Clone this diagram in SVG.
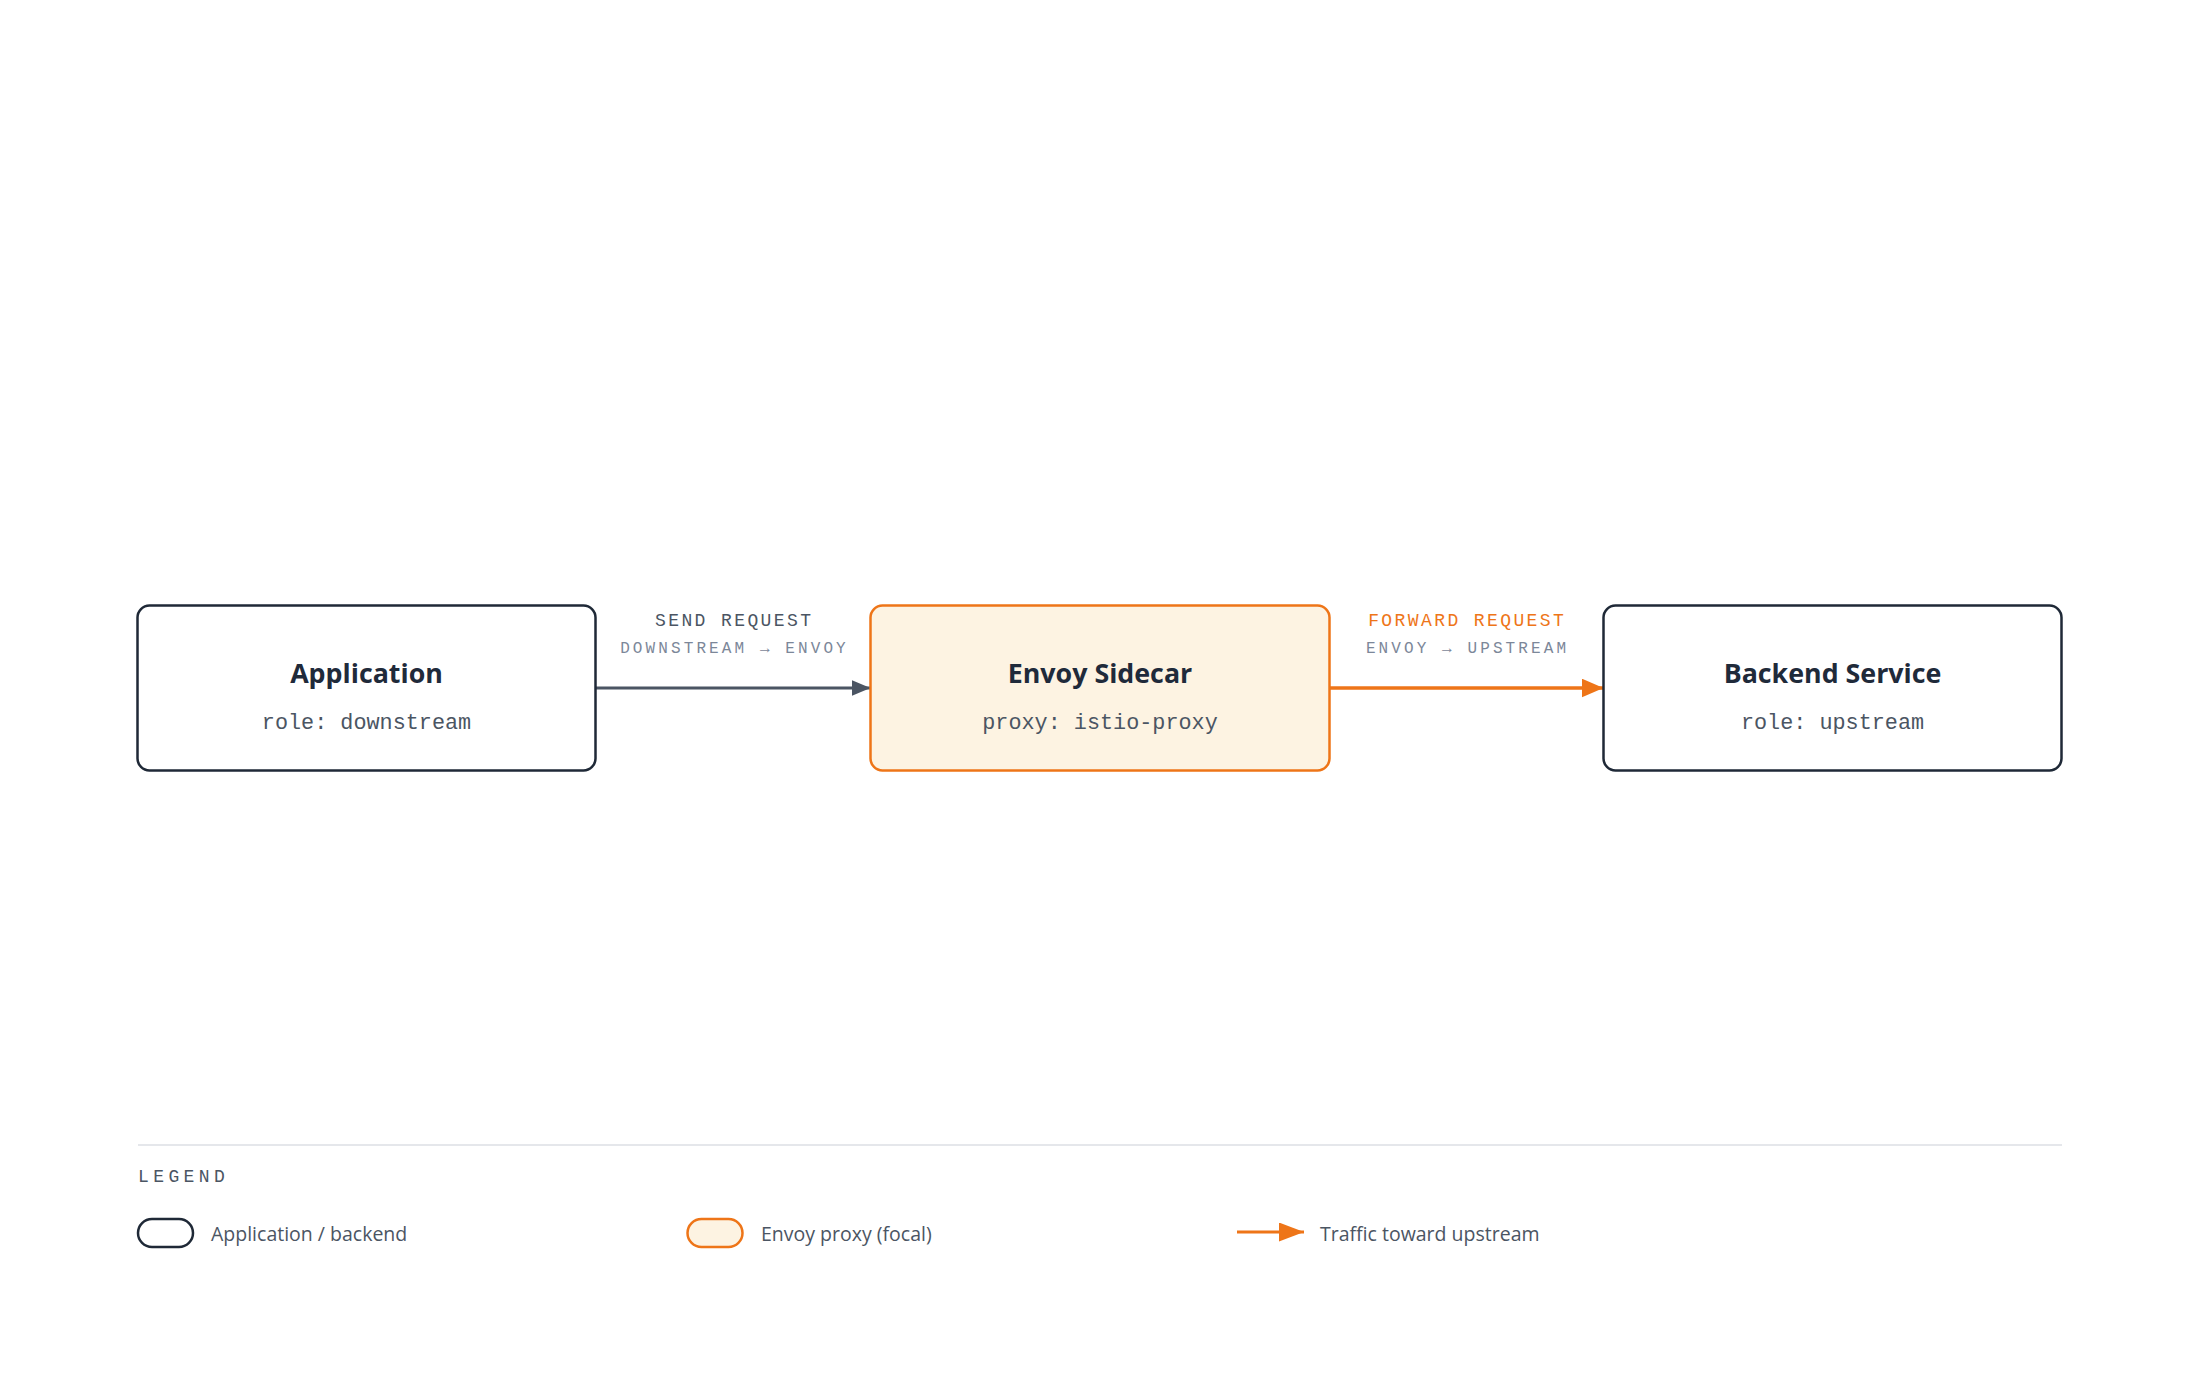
<svg xmlns="http://www.w3.org/2000/svg" width="2200" height="1376" viewBox="0 0 2200 1376">
  <style>
    .box { fill: #ffffff; stroke: #1f2937; stroke-width: 2.5; }
    .focal { fill: #fdf3e2; stroke: #ee7518; stroke-width: 2.5; }
    .title { font-family: "Open Sans", "Noto Sans", sans-serif; font-weight: 700; font-size: 26.8px; fill: #1f2a3a; text-anchor: middle; }
    .sub { font-family: "Liberation Mono", "DejaVu Sans Mono", monospace; font-size: 21.8px; fill: #4b5563; text-anchor: middle; }
    .elabel { font-family: "Liberation Mono", "DejaVu Sans Mono", monospace; font-size: 18px; letter-spacing: 2.4px; text-anchor: middle; }
    .esub { font-family: "Liberation Mono", "DejaVu Sans Mono", monospace; font-size: 16px; letter-spacing: 3.1px; fill: #7c8799; text-anchor: middle; }
    .legtext { font-family: "Open Sans", "Noto Sans", sans-serif; font-size: 19.5px; fill: #4b5563; }
    .legtitle { font-family: "Liberation Mono", "DejaVu Sans Mono", monospace; font-size: 18px; letter-spacing: 4.4px; fill: #4b5563; }
  </style>
  <defs>
    <marker id="arrGrey" markerUnits="userSpaceOnUse" markerWidth="20" markerHeight="16" refX="19" refY="8" orient="auto">
      <path d="M0,0 L19,8 L0,16 Z" fill="#4b5563"/>
    </marker>
    <marker id="arrOrange" markerUnits="userSpaceOnUse" markerWidth="23" markerHeight="20" refX="22" refY="9.5" orient="auto">
      <path d="M0,0 L22,9.5 L0,19 Z" fill="#ee7518"/>
    </marker>
    <marker id="arrOrangeLeg" markerUnits="userSpaceOnUse" markerWidth="26" markerHeight="20" refX="25" refY="9.5" orient="auto">
      <path d="M0,0 L25,9.5 L0,19 Z" fill="#ee7518"/>
    </marker>
  </defs>
  <rect width="2200" height="1376" fill="#ffffff"/>

  <g id="connectors">
    <g id="edge-send">
      <line x1="595.5" y1="688" x2="870.5" y2="688" stroke="#4b5563" stroke-width="3" marker-end="url(#arrGrey)"/>
      <text class="elabel" x="734.2" y="625.5" fill="#4b5563">SEND REQUEST</text>
      <text class="esub" x="734.5" y="652.5">DOWNSTREAM → ENVOY</text>
    </g>
    <g id="edge-forward">
      <line x1="1329.5" y1="688" x2="1603.5" y2="688" stroke="#ee7518" stroke-width="3.3" marker-end="url(#arrOrange)"/>
      <text class="elabel" x="1467.2" y="625.5" fill="#ee7518">FORWARD REQUEST</text>
      <text class="esub" x="1467.5" y="652.5">ENVOY → UPSTREAM</text>
    </g>
  </g>

  <g id="node-application">
    <rect class="box" x="137.5" y="605.5" width="458" height="165" rx="12"/>
    <text class="title" x="366.5" y="682.5">Application</text>
    <text class="sub" x="366.5" y="729">role: downstream</text>
  </g>

  <g id="node-envoy">
    <rect class="focal" x="870.5" y="605.5" width="459" height="165" rx="12"/>
    <text class="title" x="1100" y="682.5">Envoy Sidecar</text>
    <text class="sub" x="1100" y="729">proxy: istio-proxy</text>
  </g>

  <g id="node-backend">
    <rect class="box" x="1603.5" y="605.5" width="458" height="165" rx="12"/>
    <text class="title" x="1832.5" y="682.5">Backend Service</text>
    <text class="sub" x="1832.5" y="729">role: upstream</text>
  </g>

  <g id="legend">
    <line x1="138" y1="1145" x2="2062" y2="1145" stroke="#e5e7eb" stroke-width="2"/>
    <text class="legtitle" x="138" y="1182">LEGEND</text>
    <rect class="box" x="138" y="1219" width="55" height="28" rx="14"/>
    <text class="legtext" x="211" y="1241">Application / backend</text>
    <rect class="focal" x="687.5" y="1219" width="55" height="28" rx="14"/>
    <text class="legtext" x="761" y="1241">Envoy proxy (focal)</text>
    <line x1="1237" y1="1232" x2="1304" y2="1232" stroke="#ee7518" stroke-width="3" marker-end="url(#arrOrangeLeg)"/>
    <text class="legtext" x="1320" y="1241">Traffic toward upstream</text>
  </g>
</svg>
